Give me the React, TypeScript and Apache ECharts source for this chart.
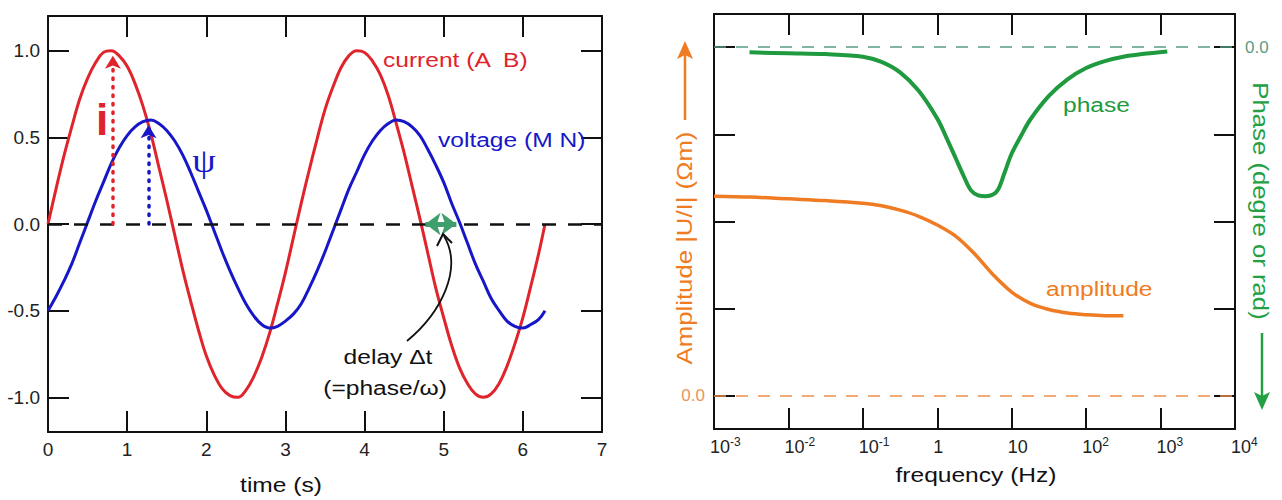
import React, { useEffect, useRef } from 'react';
import * as echarts from 'echarts';

// ---------- left panel data (time domain) ----------
const timeS = [0, 0.1, 0.2, 0.3, 0.4, 0.5, 0.6, 0.7, 0.8, 0.9, 1.0, 1.1, 1.2, 1.3, 1.4, 1.5, 1.6, 1.7, 1.8, 1.9, 2.0, 2.1, 2.2, 2.3, 2.4, 2.5, 2.6, 2.7, 2.8, 2.9, 3.0, 3.1, 3.2, 3.3, 3.4, 3.5, 3.6, 3.7, 3.8, 3.9, 4.0, 4.1, 4.2, 4.3, 4.4, 4.5, 4.6, 4.7, 4.8, 4.9, 5.0, 5.1, 5.2, 5.3, 5.4, 5.5, 5.6, 5.7, 5.8, 5.9, 6.0, 6.1, 6.2, 6.28];
const currentAB = [0, 0.2, 0.39, 0.56, 0.72, 0.84, 0.93, 0.99, 1.0, 0.97, 0.91, 0.81, 0.68, 0.52, 0.33, 0.14, -0.06, -0.26, -0.44, -0.61, -0.76, -0.87, -0.95, -0.99, -1.0, -0.96, -0.88, -0.77, -0.63, -0.46, -0.28, -0.08, 0.12, 0.31, 0.49, 0.66, 0.79, 0.9, 0.97, 1.0, 0.99, 0.94, 0.86, 0.74, 0.58, 0.41, 0.22, 0.03, -0.17, -0.37, -0.54, -0.7, -0.83, -0.92, -0.98, -1.0, -0.98, -0.92, -0.82, -0.69, -0.54, -0.36, -0.17, 0];
const voltageMN = [-0.5, -0.42, -0.33, -0.23, -0.11, 0.01, 0.13, 0.24, 0.35, 0.44, 0.51, 0.56, 0.59, 0.6, 0.58, 0.54, 0.48, 0.4, 0.3, 0.19, 0.08, -0.04, -0.16, -0.27, -0.37, -0.46, -0.53, -0.58, -0.6, -0.59, -0.56, -0.52, -0.46, -0.37, -0.27, -0.16, -0.04, 0.08, 0.2, 0.3, 0.4, 0.48, 0.54, 0.58, 0.6, 0.59, 0.56, 0.51, 0.43, 0.34, 0.24, 0.12, 0.01, -0.11, -0.23, -0.33, -0.43, -0.5, -0.56, -0.59, -0.6, -0.58, -0.55, -0.5];
const signalTicks = [-1, -0.5, 0, 0.5, 1];
const currentPeak = [0.82, 1.0];
const voltagePeak = [1.27, 0.6];
const delayStart = 4.71;
const delayEnd = 5.22;

// ---------- right panel data (frequency domain) ----------
const freqPhase = [0.003, 0.01, 0.0316, 0.1, 0.178, 0.316, 0.562, 1, 1.33, 1.78, 2.24, 2.82, 3.55, 4.47, 5.62, 6.6, 7.94, 10, 13.3, 17.8, 31.6, 56.2, 100, 178, 316, 562, 1230];
const phaseVals = [-0.06, -0.07, -0.08, -0.11, -0.17, -0.29, -0.5, -0.82, -1.04, -1.28, -1.47, -1.64, -1.7, -1.71, -1.69, -1.63, -1.45, -1.22, -1.02, -0.83, -0.56, -0.37, -0.24, -0.16, -0.11, -0.08, -0.05];
const freqAmp = [0.001, 0.00316, 0.01, 0.0316, 0.1, 0.178, 0.316, 0.562, 1, 1.78, 3.16, 5.62, 10, 17.8, 31.6, 56.2, 100, 178, 316];
const ampVals = [2.29, 2.28, 2.26, 2.24, 2.21, 2.18, 2.13, 2.06, 1.96, 1.83, 1.63, 1.39, 1.19, 1.06, 0.99, 0.95, 0.93, 0.92, 0.92];
const ampTicks = [0, 1, 2, 3, 4];
const phaseTicks = [0, -1, -2, -3, -4];

const SANS = '"Liberation Sans", Arial, Helvetica, sans-serif';
const SERIF = '"Liberation Serif", "DejaVu Serif", serif';
const RED = '#e0242b';
const BLUE = '#1717c8';
const GREEN_ARROW = '#3f9e6c';
const PHASE = '#1f9a3f';
const PHASE_T = '#23a043';
const PHASE_DASH = '#5a9c84';
const ORANGE = '#ef7b22';
const ORANGE_DASH = '#ef8f4e';
const ORANGE_LBL = '#e9955a';
const GREEN_LBL = '#5b9c82';
const INK = '#111';
const SX = 1.17;

const axisLine = { show: true, onZero: false, lineStyle: { color: INK, width: 2 } };
const tick = { show: true, inside: true, length: 21, lineStyle: { color: INK, width: 2 } };
const noSplit = { show: false };

function txt(text: string, x: number, y: number, color: string, size: number, align = 'center', extra: any = {}) {
  return {
    type: 'text', x, y, scaleX: SX, silent: true, z: 20,
    style: { text, fill: color, fontSize: size, fontFamily: SANS, align, verticalAlign: 'middle', textAlign: align, textVerticalAlign: 'middle' },
    ...extra,
  };
}

export default function App() {
  const ref = useRef<HTMLDivElement>(null);
  useEffect(() => {
    if (!ref.current) return;
    const chart = echarts.init(ref.current, undefined, { renderer: 'svg' });
    const option: any = {
      animation: false,
      backgroundColor: '#fff',
      grid: [
        { left: 48, top: 16, width: 554, height: 416, containLabel: false, outerBoundsMode: 'none' },
        { left: 714, top: 14, width: 521, height: 415, containLabel: false, outerBoundsMode: 'none' },
      ],
      xAxis: [
        {
          gridIndex: 0, type: 'value', min: 0, max: 7, interval: 1, position: 'bottom',
          axisLine, axisTick: tick, splitLine: noSplit,
          axisLabel: { fontSize: 19, color: '#222', fontFamily: SANS, margin: 8, showMinLabel: true, showMaxLabel: true, hideOverlap: false },
        },
        {
          gridIndex: 0, type: 'value', min: 0, max: 7, interval: 1, position: 'top',
          axisLine, axisTick: tick, splitLine: noSplit, axisLabel: { show: false },
        },
        {
          gridIndex: 1, type: 'log', logBase: 10, min: 0.001, max: 10000, position: 'bottom',
          axisLine, axisTick: tick, splitLine: noSplit, minorTick: { show: false },
          axisLabel: {
            margin: 7, align: 'left', padding: [0, 0, 0, -4], showMinLabel: true, showMaxLabel: true, hideOverlap: false,
            formatter: (v: number) => {
              const e = Math.round(Math.log10(v));
              if (e === 0) return '{c|1}';
              if (e === 1) return '{b|10}';
              return `{b|10}{s|${e}}`;
            },
            rich: {
              b: { fontSize: 18, lineHeight: 22, color: '#222', fontFamily: SANS },
              c: { fontSize: 18, lineHeight: 22, color: '#222', fontFamily: SANS },
              s: { fontSize: 12, lineHeight: 12, color: '#222', fontFamily: SANS, verticalAlign: 'top' },
            },
          },
        },
        {
          gridIndex: 1, type: 'log', logBase: 10, min: 0.001, max: 10000, position: 'top',
          axisLine, axisTick: tick, splitLine: noSplit, minorTick: { show: false }, axisLabel: { show: false },
        },
      ],
      yAxis: [
        {
          gridIndex: 0, type: 'value', min: -1.2, max: 1.2, position: 'left',
          axisLine, axisTick: { ...tick, customValues: signalTicks }, splitLine: noSplit,
          axisLabel: { customValues: signalTicks, formatter: (v: number) => v.toFixed(1), fontSize: 19, color: '#222', fontFamily: SANS, margin: 8 },
        },
        {
          gridIndex: 0, type: 'value', min: -1.2, max: 1.2, position: 'right',
          axisLine, axisTick: { ...tick, customValues: signalTicks }, splitLine: noSplit, axisLabel: { show: false },
        },
        {
          gridIndex: 1, type: 'value', min: -0.38, max: 4.38, position: 'left',
          axisLine, axisTick: { ...tick, customValues: ampTicks }, splitLine: noSplit,
          axisLabel: { customValues: [0], formatter: () => '0.0', fontSize: 17, color: ORANGE_LBL, fontFamily: SANS, margin: 9 },
        },
        {
          gridIndex: 1, type: 'value', min: -4.38, max: 0.38, position: 'right',
          axisLine, axisTick: { ...tick, customValues: phaseTicks }, splitLine: noSplit,
          axisLabel: { customValues: [0], formatter: () => '0.0', fontSize: 17, color: GREEN_LBL, fontFamily: SANS, margin: 10 },
        },
      ],
      series: [
        {
          name: 'current (A  B)', type: 'line', xAxisIndex: 0, yAxisIndex: 0, smooth: 0.4, showSymbol: false, silent: true,
          data: timeS.map((t, i) => [t, currentAB[i]]),
          lineStyle: { color: RED, width: 3 }, itemStyle: { color: RED }, z: 3,
          markLine: {
            silent: true, symbol: 'none', label: { show: false }, animation: false, z: 4,
            data: [
              { yAxis: 0, lineStyle: { color: INK, width: 2.5, type: [14, 12] } },
              [
                { coord: [currentPeak[0], 0], symbol: 'none', lineStyle: { color: RED, width: 3.5, type: [1.5, 7], cap: 'round' } },
                { coord: [currentPeak[0], currentPeak[1] - 0.03], symbol: 'arrow', symbolSize: [12, 13] },
              ],
            ],
          },
        },
        {
          name: 'voltage (M N)', type: 'line', xAxisIndex: 0, yAxisIndex: 0, smooth: 0.4, showSymbol: false, silent: true,
          data: timeS.map((t, i) => [t, voltageMN[i]]),
          lineStyle: { color: BLUE, width: 3 }, itemStyle: { color: BLUE }, z: 3,
          markLine: {
            silent: true, symbol: 'none', label: { show: false }, animation: false, z: 5,
            data: [
              [
                { coord: [voltagePeak[0], 0], symbol: 'none', lineStyle: { color: BLUE, width: 3.5, type: [1.5, 7], cap: 'round' } },
                { coord: [voltagePeak[0], voltagePeak[1] - 0.03], symbol: 'arrow', symbolSize: [12, 13] },
              ],
              [
                { coord: [delayStart + 0.06, 0], symbol: 'arrow', symbolSize: [17, 15], lineStyle: { color: GREEN_ARROW, width: 5, type: 'solid' } },
                { coord: [delayEnd - 0.06, 0], symbol: 'arrow', symbolSize: [17, 15] },
              ],
            ],
          },
        },
        {
          name: 'phase', type: 'line', xAxisIndex: 2, yAxisIndex: 3, smooth: 0.35, showSymbol: false, silent: true,
          data: freqPhase.map((f, i) => [f, phaseVals[i]]),
          lineStyle: { color: PHASE, width: 4 }, itemStyle: { color: PHASE }, z: 3,
          markLine: {
            silent: true, symbol: 'none', label: { show: false }, animation: false,
            data: [{ yAxis: 0, lineStyle: { color: PHASE_DASH, width: 1.5, type: [12, 10] } }],
          },
        },
        {
          name: 'amplitude', type: 'line', xAxisIndex: 2, yAxisIndex: 2, smooth: 0.35, showSymbol: false, silent: true,
          data: freqAmp.map((f, i) => [f, ampVals[i]]),
          lineStyle: { color: ORANGE, width: 3.5 }, itemStyle: { color: ORANGE }, z: 3,
          markLine: {
            silent: true, symbol: 'none', label: { show: false }, animation: false,
            data: [{ yAxis: 0, lineStyle: { color: ORANGE_DASH, width: 1.5, type: [12, 10] } }],
          },
        },
      ],
      graphic: [
        // left panel annotations
        txt('current (A  B)', 383, 60, RED, 21, 'left'),
        txt('voltage (M N)', 438, 140, BLUE, 21, 'left'),
        {
          type: 'text', x: 102, y: 119, silent: true, z: 20,
          style: { text: 'i', fill: RED, fontSize: 44, fontWeight: 'bold', fontFamily: SANS, align: 'center', verticalAlign: 'middle', textAlign: 'center', textVerticalAlign: 'middle' },
        },
        {
          type: 'text', x: 204, y: 161, scaleX: 1.1, silent: true, z: 20,
          style: { text: 'ψ', fill: BLUE, fontSize: 34, fontFamily: SERIF, align: 'center', verticalAlign: 'middle', textAlign: 'center', textVerticalAlign: 'middle' },
        },
        txt('delay Δt', 388, 357, '#111', 21),
        txt('(=phase/ω)', 385, 388, '#111', 21),
        txt('time (s)', 281, 485, '#111', 21),
        {
          type: 'bezierCurve', silent: true, z: 20,
          shape: { x1: 407, y1: 341, cpx1: 442, cpy1: 312, cpx2: 463, cpy2: 268, x2: 444, y2: 236 },
          style: { stroke: '#111', lineWidth: 1.8, fill: 'none' },
        },
        {
          type: 'polyline', silent: true, z: 20,
          shape: { points: [[437, 246], [443, 234], [452, 243]] },
          style: { stroke: '#111', lineWidth: 2, fill: 'none' },
        },
        // right panel annotations
        txt('phase', 1063, 105, PHASE, 21, 'left'),
        txt('amplitude', 1046, 289, ORANGE, 21, 'left'),
        txt('frequency (Hz)', 976, 475, '#111', 21),
        txt('Amplitude |U/I| (Ωm)', 684, 248, ORANGE, 22, 'center', { rotation: Math.PI / 2 }),
        {
          type: 'line', silent: true, z: 20,
          shape: { x1: 685, y1: 120, x2: 685, y2: 52 },
          style: { stroke: ORANGE, lineWidth: 2.5 },
        },
        {
          type: 'polygon', silent: true, z: 20,
          shape: { points: [[685, 41], [677, 59], [685, 55], [693, 59]] },
          style: { fill: ORANGE },
        },
        txt('Phase (degre or rad)', 1261, 201, PHASE_T, 22, 'center', { rotation: -Math.PI / 2 }),
        {
          type: 'line', silent: true, z: 20,
          shape: { x1: 1262, y1: 333, x2: 1262, y2: 400 },
          style: { stroke: PHASE_T, lineWidth: 2.5 },
        },
        {
          type: 'polygon', silent: true, z: 20,
          shape: { points: [[1262, 410], [1254, 392], [1262, 396], [1270, 392]] },
          style: { fill: PHASE_T },
        },
      ],
    };
    chart.setOption(option);
    return () => chart.dispose();
  }, []);
  return (
    <div
      ref={ref}
      style={{ position: 'fixed', left: 0, top: 0, width: 1282, height: 500, background: '#fff' }}
    />
  );
}
